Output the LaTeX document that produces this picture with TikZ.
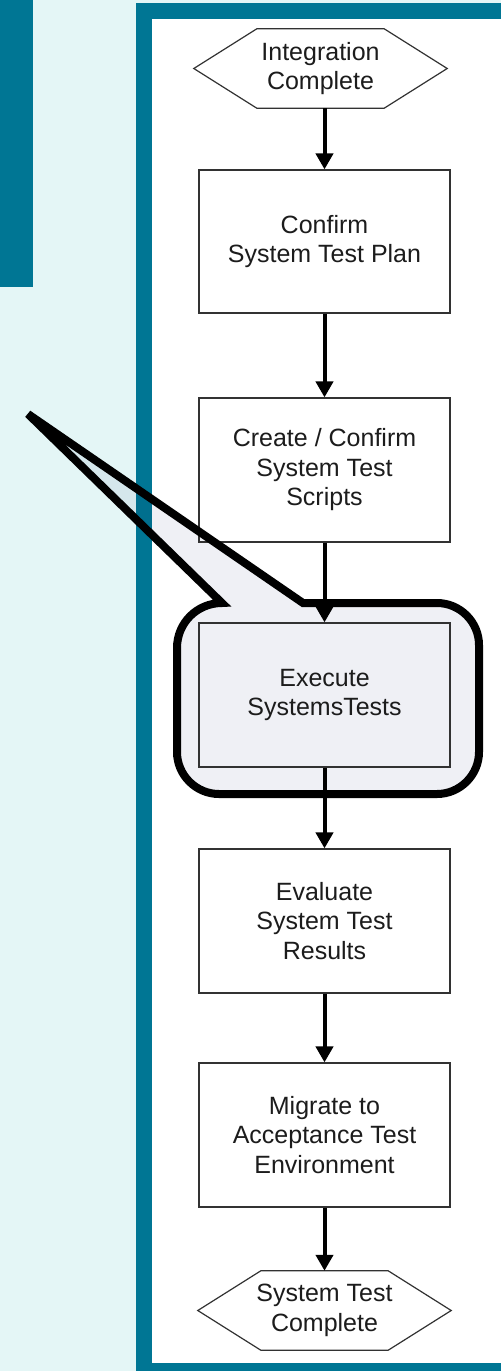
\documentclass[tikz,border=0pt]{standalone}
\usepackage{fontspec}
\setmainfont{Liberation Sans}
\usetikzlibrary{arrows.meta}
\definecolor{framecol}{RGB}{0,118,148}
\definecolor{bgcol}{RGB}{228,246,246}
\definecolor{bubblefill}{RGB}{239,240,245}
\definecolor{edgecol}{RGB}{50,50,50}
\definecolor{inkcol}{RGB}{28,28,28}
\begin{document}
\begin{tikzpicture}[x=1pt,y=-1pt,
  labelfont/.style={text=inkcol, align=center, font=\fontsize{25}{29.5}\selectfont},
  stepbox/.style={labelfont, draw=edgecol, line width=1.2pt,
    minimum width=251pt, minimum height=144pt, inner sep=0pt},
  hexholder/.style={labelfont, minimum width=253pt, minimum height=79pt, inner sep=0pt},
  hexline/.style={draw=edgecol, line width=1.2pt},
  flow/.style={line width=4pt, -{Triangle[width=17pt,length=16pt]}},
  bubbleline/.style={line width=8pt, draw=black, miter limit=10}
]
% canvas and frame
\useasboundingbox (0,0) rectangle (501,1371);
\fill[bgcol] (0,0) rectangle (501,1371);
\fill[framecol] (0,0) rectangle (33,287);
\fill[framecol] (136,3) rectangle (501,1371);
\fill[white] (152,19) rectangle (501,1363);

% callout bubble: tinted fill underneath the flowchart
\coordinate (tip) at (28,414);
\coordinate (tl) at (222,603);
\coordinate (tr) at (303,603);
\begin{scope}[blend mode=multiply]
\fill[bubblefill]
  (tip) -- (tr) -- (437,603) .. controls (460,603) and (479,622) .. (479,645)
  -- (479,752) .. controls (479,775) and (460,794) .. (437,794)
  -- (219,794) .. controls (196,794) and (177,775) .. (177,752)
  -- (177,648) .. controls (177,623) and (197,603) .. (tl) -- cycle;
\end{scope}

% terminal nodes
\node[hexholder] (start) at (320.5,68.5) {Integration\\Complete};
\node[hexholder] (finish) at (324.5,1310.5) {System Test\\Complete};
\draw[hexline] (start.west) -- ([xshift=63pt]start.north west) -- ([xshift=-63pt]start.north east)
  -- (start.east) -- ([xshift=-63pt]start.south east) -- ([xshift=63pt]start.south west) -- cycle;
\draw[hexline] (finish.west) -- ([xshift=63pt]finish.north west) -- ([xshift=-63pt]finish.north east)
  -- (finish.east) -- ([xshift=-63pt]finish.south east) -- ([xshift=63pt]finish.south west) -- cycle;

% process steps
\node[stepbox, minimum height=143pt] (plan) at (324.5,241.5) {Confirm\\System Test Plan};
\node[stepbox] (scripts) at (324.5,470) {Create / Confirm\\System Test\\Scripts};
\node[stepbox] (execute) at (324.5,695) {Execute\\SystemsTests};
\node[stepbox] (evaluate) at (324.5,921) {Evaluate\\System Test\\Results};
\node[stepbox] (migrate) at (324.5,1135) {Migrate to\\Acceptance Test\\Environment};

% connectors
\draw[flow] (plan.north |- start.south) -- (plan.north);
\draw[flow] (plan.south) -- (scripts.north);
\draw[flow] (scripts.south) -- (execute.north);
\draw[flow] (execute.south) -- (evaluate.north);
\draw[flow] (evaluate.south) -- (migrate.north);
\draw[flow] (migrate.south) -- (migrate.south |- finish.north);

% callout bubble outline on top
\draw[bubbleline]
  (tip) -- (tr) -- (437,603) .. controls (460,603) and (479,622) .. (479,645)
  -- (479,752) .. controls (479,775) and (460,794) .. (437,794)
  -- (219,794) .. controls (196,794) and (177,775) .. (177,752)
  -- (177,648) .. controls (177,623) and (197,603) .. (tl) -- cycle;
\end{tikzpicture}
\end{document}
